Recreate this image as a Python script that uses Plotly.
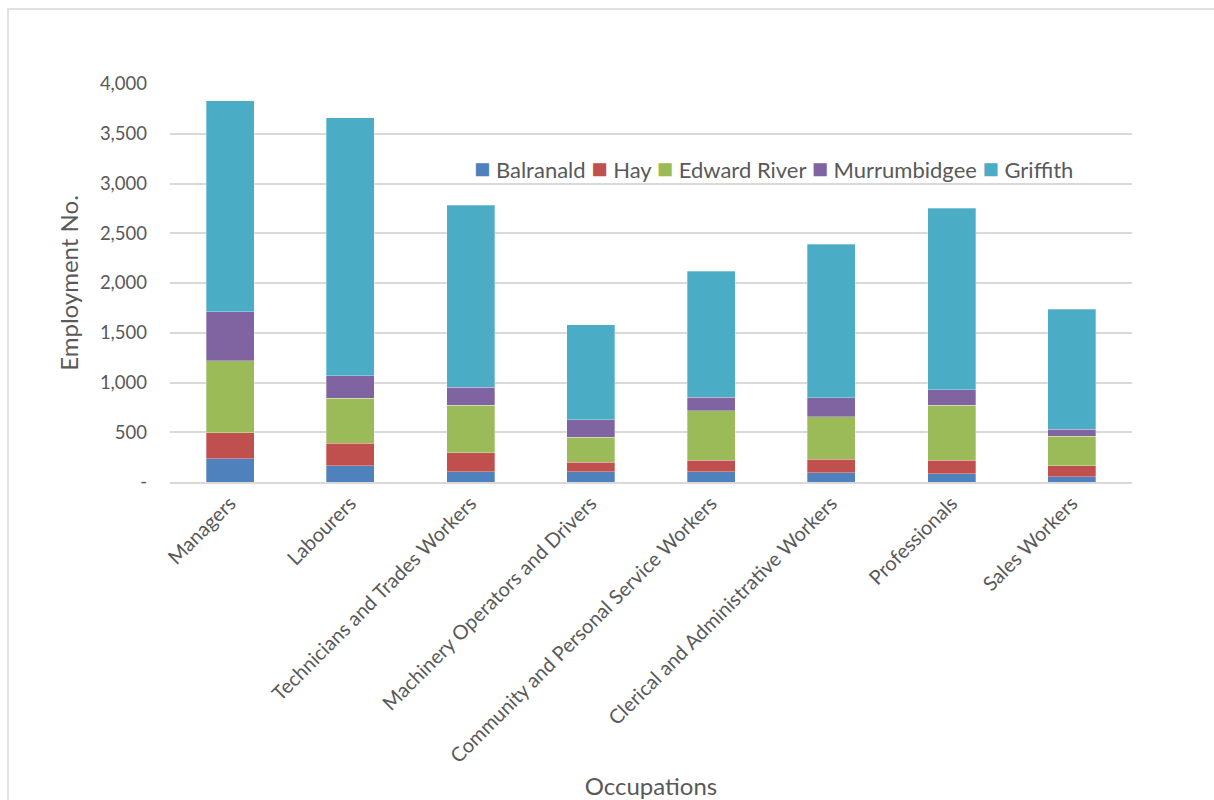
import plotly.graph_objects as go

categories = ["Managers", "Labourers", "Technicians and Trades Workers",
              "Machinery Operators and Drivers", "Community and Personal Service Workers",
              "Clerical and Administrative Workers", "Professionals", "Sales Workers"]

balranald = [235, 161, 105, 101, 101, 95, 84, 54]
hay = [258, 231, 187, 97, 120, 136, 134, 107]
edward_river = [724, 450, 480, 252, 493, 427, 554, 299]
murrumbidgee = [494, 224, 178, 174, 138, 187, 154, 70]
griffith = [2119, 2596, 1831, 955, 1265, 1543, 1824, 1207]

series_names = ["Balranald", "Hay", "Edward River", "Murrumbidgee", "Griffith"]
series_values = [balranald, hay, edward_river, murrumbidgee, griffith]
colors = ["#4F81BD", "#C0504D", "#9BBB59", "#8064A2", "#4BACC6"]

y_tickvals = [0, 500, 1000, 1500, 2000, 2500, 3000, 3500, 4000]
y_ticktext = ["-", "500", "1,000", "1,500", "2,000", "2,500", "3,000", "3,500", "4,000"]

FONT = "Lato"
TXT = "#595959"

fig = go.Figure()
for name, vals, col in zip(series_names, series_values, colors):
    fig.add_trace(go.Bar(
        x=categories, y=vals, name=name,
        marker=dict(color=col, line=dict(color="rgba(255,255,255,0.6)", width=0.5)),
    ))

W, H = 1214, 800
ml, mr, mt, mb = 170, 82, 84, 318
pw, ph = W - ml - mr, H - mt - mb

def px_x(x):
    return (x - ml) / pw

def px_y(y):
    return (H - mb - y) / ph

# custom legend (one line of text with coloured squares)
legend_parts = []
for name, col in zip(series_names, colors):
    legend_parts.append(
        f"<span style='color:{col};font-size:27px'>■</span>&nbsp;{name}"
    )
legend_text = "&nbsp;".join(legend_parts)

fig.update_layout(
    barmode="stack",
    bargap=0.6,
    width=W, height=H,
    margin=dict(l=ml, r=mr, t=mt, b=mb, autoexpand=False),
    paper_bgcolor="white",
    plot_bgcolor="white",
    font=dict(family=FONT, color=TXT, size=16),
    showlegend=False,
    xaxis=dict(
        automargin=False,
        tickangle=-45,
        tickfont=dict(family=FONT, size=20, color=TXT),
        title=dict(text="Occupations", font=dict(family=FONT, size=24, color=TXT), standoff=13),
        showline=True, linecolor="#d9d9d9", linewidth=1.5,
        ticks="",
        showgrid=False,
    ),
    yaxis=dict(
        automargin=False,
        range=[0, 4000],
        tickvals=y_tickvals, ticktext=y_ticktext,
        tickfont=dict(family=FONT, size=18.5, color=TXT),
        title=dict(text="Employment No.", font=dict(family=FONT, size=24, color=TXT), standoff=14),
        showgrid=True, gridcolor="#d9d9d9", gridwidth=1.5,
        zeroline=False,
        ticks="",
        ticklabelstandoff=22,
    ),
    annotations=[dict(
        text=legend_text, xref="paper", yref="paper",
        x=px_x(472), y=px_y(167), xanchor="left", yanchor="middle",
        showarrow=False, font=dict(family=FONT, size=22, color=TXT),
    )],
    shapes=[dict(
        type="rect", xref="paper", yref="paper",
        x0=px_x(8), x1=px_x(1240), y0=px_y(830), y1=px_y(9),
        line=dict(color="#d9d9d9", width=1.5), fillcolor="rgba(0,0,0,0)", layer="below",
    )],
)

fig.write_html("out.html")
